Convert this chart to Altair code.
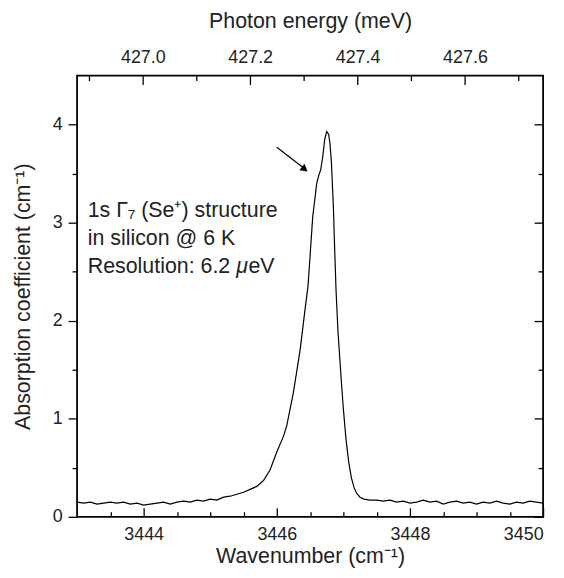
import altair as alt
import pandas as pd

MEV_PER_CM = 0.12398419

wavenumber = [
    3443.0, 3443.1, 3443.2, 3443.3, 3443.4, 3443.5, 3443.6, 3443.7, 3443.8, 3443.9,
    3444.0, 3444.1, 3444.2, 3444.3, 3444.4, 3444.5, 3444.6, 3444.7, 3444.8, 3444.9,
    3445.0, 3445.1, 3445.2, 3445.3, 3445.4, 3445.5, 3445.6, 3445.7,
    3445.80, 3445.90, 3446.00, 3446.10, 3446.15, 3446.25, 3446.35, 3446.42, 3446.47,
    3446.54, 3446.60, 3446.63, 3446.66, 3446.69, 3446.72, 3446.75, 3446.78, 3446.80,
    3446.82, 3446.85, 3446.87, 3446.89, 3446.92, 3446.97, 3447.00, 3447.04, 3447.08,
    3447.12, 3447.16, 3447.20, 3447.25, 3447.31, 3447.40,
    3447.5, 3447.6, 3447.7, 3447.8, 3447.9, 3448.0, 3448.1, 3448.2, 3448.3, 3448.4,
    3448.5, 3448.6, 3448.7, 3448.8, 3448.9, 3449.0, 3449.1, 3449.2, 3449.3, 3449.4,
    3449.5, 3449.6, 3449.7, 3449.8, 3449.9, 3450.0,
]
absorption = [
    0.15, 0.14, 0.15, 0.13, 0.14, 0.15, 0.14, 0.15, 0.13, 0.14,
    0.12, 0.13, 0.14, 0.15, 0.13, 0.15, 0.16, 0.15, 0.17, 0.16,
    0.18, 0.17, 0.20, 0.21, 0.23, 0.25, 0.28, 0.31,
    0.37, 0.48, 0.66, 0.82, 0.93, 1.27, 1.70, 2.09, 2.36,
    3.06, 3.40, 3.48, 3.54, 3.67, 3.85, 3.93, 3.90, 3.80,
    3.62, 3.17, 2.72, 2.31, 1.88, 1.38, 1.10, 0.79, 0.56,
    0.40, 0.30, 0.24, 0.20, 0.18, 0.17,
    0.17, 0.16, 0.17, 0.15, 0.16, 0.14, 0.15, 0.17, 0.15, 0.16,
    0.13, 0.15, 0.16, 0.14, 0.15, 0.13, 0.15, 0.14, 0.16, 0.14,
    0.13, 0.15, 0.14, 0.16, 0.15, 0.14,
]

x_major = [3444, 3446, 3448, 3450]
x_minor = [3443.5, 3444.5, 3445, 3445.5, 3446.5, 3447, 3447.5, 3448.5, 3449, 3449.5]
y_major = [0, 1, 2, 3, 4]
y_minor = [0.5, 1.5, 2.5, 3.5]
energy_major = [427.0, 427.2, 427.4, 427.6]
energy_minor = [426.9, 427.1, 427.3, 427.5, 427.7]

ann_lines = ["1s Γ₇ (Se⁺) structure", "in silicon @ 6 K"]
ann_y = [3.06, 2.77]
res_parts = ["Resolution: 6.2 ", "μ", "eV"]
res_y = 2.49
ann_x0 = 3443.16

arrow_start = (3446.0, 3.77)
arrow_end = (3446.40, 3.56)
arrow_head = (3446.42, 3.545)

ANN_SIZE = 21.5

df = pd.DataFrame({"wn": wavenumber, "a": absorption})
ann_df = pd.DataFrame({"x": [ann_x0] * len(ann_lines), "y": ann_y, "t": ann_lines})
arrow_df = pd.DataFrame({"x": [arrow_start[0]], "y": [arrow_start[1]],
                         "x2": [arrow_end[0]], "y2": [arrow_end[1]]})
head_df = pd.DataFrame({"x": [arrow_head[0]], "y": [arrow_head[1]]})

xs = alt.Scale(domain=[3443, 3450], nice=False, zero=False)
ys = alt.Scale(domain=[0, 4.5], nice=False, zero=False)

FONT = "Liberation Sans"
TXT = "#222222"
TITLE_SIZE = 21.5

ax_bottom_major = alt.Axis(orient="bottom", values=x_major, tickSize={"expr": "-9"},
                           labelPadding=18, title="Wavenumber  (cm⁻¹)", titlePadding=2.5,
                           format="d")
ax_bottom_minor = alt.Axis(orient="bottom", values=x_minor, tickSize={"expr": "-5"},
                           labels=False, title=None)
ax_left_major = alt.Axis(orient="left", values=y_major, tickSize=9, labelPadding=6,
                         title="Absorption coefficient (cm⁻¹)", titlePadding=18, format="d")
ax_left_minor = alt.Axis(orient="left", values=y_minor, tickSize=5, labels=False, title=None)
ax_top_major = alt.Axis(orient="top", values=[e / MEV_PER_CM for e in energy_major],
                        tickSize={"expr": "-9"}, labelPadding=18,
                        labelExpr=f"format(datum.value * {MEV_PER_CM}, '.1f')",
                        title="Photon energy (meV)", titlePadding=16)
ax_top_minor = alt.Axis(orient="top", values=[e / MEV_PER_CM for e in energy_minor],
                        tickSize={"expr": "-5"}, labels=False, title=None)
ax_right_major = alt.Axis(orient="right", values=y_major, tickSize={"expr": "-9"},
                          labels=False, title=None)
ax_right_minor = alt.Axis(orient="right", values=y_minor, tickSize={"expr": "-5"},
                          labels=False, title=None)

base = alt.Chart(df)
line = base.mark_line(color="black", strokeWidth=1.2).encode(
    x=alt.X("wn:Q", scale=xs, axis=ax_bottom_major),
    y=alt.Y("a:Q", scale=ys, axis=ax_left_major),
)
g1 = base.mark_point(opacity=0).encode(
    x=alt.X("wn:Q", scale=xs, axis=ax_bottom_minor),
    y=alt.Y("a:Q", scale=ys, axis=ax_left_minor),
)
g2 = base.mark_point(opacity=0).encode(
    x=alt.X("wn:Q", scale=xs, axis=ax_top_major),
    y=alt.Y("a:Q", scale=ys, axis=ax_right_major),
)
g3 = base.mark_point(opacity=0).encode(
    x=alt.X("wn:Q", scale=xs, axis=ax_top_minor),
    y=alt.Y("a:Q", scale=ys, axis=ax_right_minor),
)

text = alt.Chart(ann_df).mark_text(align="left", baseline="alphabetic", font=FONT,
                                   fontSize=ANN_SIZE, color=TXT).encode(
    x=alt.X("x:Q", scale=xs, axis=None),
    y=alt.Y("y:Q", scale=ys, axis=None),
    text="t:N",
)

res_layers = []
dx = 0.0
widths = [6.948, 0.576, 1.223]  # em widths of each piece
for part, w in zip(res_parts, widths):
    pdf = pd.DataFrame({"x": [ann_x0], "y": [res_y], "t": [part]})
    res_layers.append(
        alt.Chart(pdf).mark_text(align="left", baseline="alphabetic", font=FONT,
                                 fontSize=ANN_SIZE, color=TXT, dx=dx,
                                 fontStyle="italic" if part == "μ" else "normal").encode(
            x=alt.X("x:Q", scale=xs, axis=None),
            y=alt.Y("y:Q", scale=ys, axis=None),
            text="t:N",
        )
    )
    dx += w * ANN_SIZE

arrow = alt.Chart(arrow_df).mark_rule(color="black", strokeWidth=1.2).encode(
    x=alt.X("x:Q", scale=xs, axis=None), y=alt.Y("y:Q", scale=ys, axis=None),
    x2="x2:Q", y2="y2:Q",
)
head = alt.Chart(head_df).mark_point(shape="triangle-right", filled=True, color="black",
                                     size=70, angle=38, opacity=1).encode(
    x=alt.X("x:Q", scale=xs, axis=None), y=alt.Y("y:Q", scale=ys, axis=None),
)

chart = alt.layer(line, g1, g2, g3, text, *res_layers, arrow, head).resolve_axis(
    x="independent", y="independent"
).properties(
    width=469, height=444,
    padding={"left": 3.5, "top": 1.25, "right": 10, "bottom": 0},
).configure_view(stroke="black", strokeWidth=1.8).configure_axis(
    grid=False, domain=False, labelFont=FONT, labelFontSize=18, labelColor=TXT,
    titleFont=FONT, titleFontSize=TITLE_SIZE, titleColor=TXT, titleFontWeight="normal",
    tickColor="black", tickWidth=1.3,
)

chart.save("out.html", embed_options={"renderer": "svg", "actions": False})
